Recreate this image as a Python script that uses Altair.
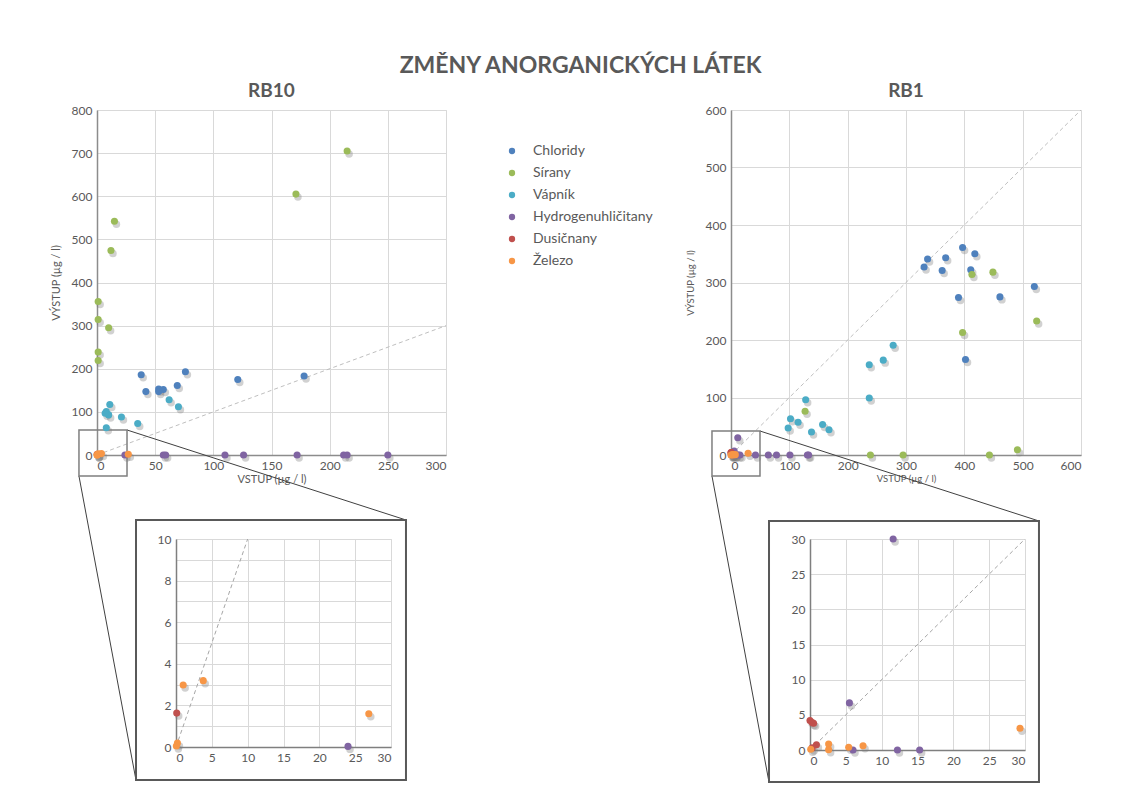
import altair as alt
import pandas as pd

FONT = "Lato"
GREY = "#595959"

SERIES = ["Chloridy", "Sírany", "Vápník", "Hydrogenuhličitany", "Dusičnany", "Železo"]
COLORS = ["#4F81BD", "#9BBB59", "#4BACC6", "#8064A2", "#C0504D", "#F79646"]

# ---------------- RB10 (VSTUP x, VÝSTUP y) ----------------
rb10_chloridy_x = [38, 42, 53, 53, 57, 69, 76, 121, 178]
rb10_chloridy_y = [186, 147, 153, 147, 152, 161, 193, 175, 183]
rb10_sirany_x = [1, 1, 10, 1, 1, 12, 15, 171, 215]
rb10_sirany_y = [356, 314, 295, 239, 219, 474, 542, 605, 705]
rb10_vapnik_x = [62, 70, 11, 8, 10, 7, 21, 35, 8]
rb10_vapnik_y = [128, 112, 117, 101, 93, 97, 88, 73, 63]
rb10_hco3_x = [24, 57, 59, 110, 126, 172, 212, 215, 250]
rb10_hco3_y = [0.03, 0, 0, 0, 0, 0, 0, 0, 0]
rb10_no3_x = [0.1]
rb10_no3_y = [1.63]
rb10_fe_x = [0.2, 0.05, 1.0, 3.8, 26.9]
rb10_fe_y = [0.19, 0.05, 2.98, 3.19, 1.6]

# ---------------- RB1 ----------------
rb1_chloridy_x = [331, 337, 362, 368, 397, 411, 418, 390, 461, 402, 520]
rb1_chloridy_y = [327, 341, 321, 343, 361, 322, 350, 274, 275, 166, 293]
rb1_sirany_x = [239, 295, 443, 491, 127, 397, 413, 449, 524]
rb1_sirany_y = [0, 0, 0, 9, 76, 213, 314, 318, 233]
rb1_vapnik_x = [278, 237, 261, 237, 128, 102, 115, 98, 138, 157, 168]
rb1_vapnik_y = [191, 157, 165, 99, 96, 63, 57, 47, 40, 53, 44]
rb1_hco3_x = [11.6, 5.5, 6.0, 12.2, 15.3, 42, 64, 78, 101, 131, 133]
rb1_hco3_y = [30, 6.7, 0, 0, 0, 0, 0, 0, 0, 0, 0]
rb1_no3_x = [0, 0.3, 0.5, 0.9, 0.3]
rb1_no3_y = [4.2, 3.9, 3.8, 0.75, 0.3]
rb1_fe_x = [0.1, 2.6, 2.6, 5.4, 7.4, 29.3]
rb1_fe_y = [0.1, 0.85, 0.05, 0.4, 0.6, 3.1]

# reference lines y = x
rb10_diag = [0, 300]
rb1_diag = [0, 600]

# zoom boxes and connector lines (main-panel data units)
rb10_box_x, rb10_box_y = [-15.5, 25.8], [-48.7, 58]
rb10_link_x, rb10_link_x2 = [25.8, -15.5], [265.6, 33.5]
rb10_link_y, rb10_link_y2 = [58, -48.7], [-150.7, -753.6]
rb1_box_x, rb1_box_y = [-32.6, 49.7], [-36.5, 41.7]
rb1_link_x, rb1_link_x2 = [49.7, -32.6], [528, 65.1]
rb1_link_y, rb1_link_y2 = [41.7, -36.5], [-114.8, -568.7]

# inset frames (inset data units)
rb10_frame_x, rb10_frame_y = [-5.58, 32.09], [-1.59, 10.91]
rb1_frame_x, rb1_frame_y = [-5.72, 31.95], [-4.55, 32.56]


def build(arrays):
    rows = []
    for i, (name, (xs, ys)) in enumerate(zip(SERIES, arrays)):
        for x, y in zip(xs, ys):
            rows.append({"series": name, "order": i, "x": x, "y": y})
    return pd.DataFrame(rows)


rb10 = build([(rb10_chloridy_x, rb10_chloridy_y), (rb10_sirany_x, rb10_sirany_y),
              (rb10_vapnik_x, rb10_vapnik_y), (rb10_hco3_x, rb10_hco3_y),
              (rb10_no3_x, rb10_no3_y), (rb10_fe_x, rb10_fe_y)])
rb1 = build([(rb1_chloridy_x, rb1_chloridy_y), (rb1_sirany_x, rb1_sirany_y),
             (rb1_vapnik_x, rb1_vapnik_y), (rb1_hco3_x, rb1_hco3_y),
             (rb1_no3_x, rb1_no3_y), (rb1_fe_x, rb1_fe_y)])

cscale = alt.Scale(domain=SERIES, range=COLORS)
NOVIEW = alt.ViewBackground(stroke=None, fill=None)


def axis(values, title, tsize, domain_color="#8c8c8c", **kw):
    return alt.Axis(values=values, title=title, grid=True, gridColor="#d9d9d9", gridWidth=1,
                    domain=True, labels=True,
                    domainColor=domain_color, domainWidth=1.5, ticks=False,
                    labelColor=GREY, labelFont=FONT, labelFontSize=12, labelPadding=5,
                    titleColor=GREY, titleFont=FONT, titleFontSize=tsize,
                    titleFontWeight="normal", **kw)


def points(d, X, Y, size):
    shadow = alt.Chart(d).mark_circle(size=size + 6, color="#7a7a7a", opacity=0.35,
                                      xOffset=2, yOffset=3).encode(x=X, y=Y)
    pts = alt.Chart(d).mark_circle(size=size, opacity=1).encode(
        x=X, y=Y, color=alt.Color("series:N", scale=cscale, legend=None),
        order="order:Q")
    return shadow, pts


def main_panel(d, diag, box_x, box_y, lx, lx2, ly, ly2, xmax, ymax, xstep, ystep, w, h, name, tsize):
    xs = alt.Scale(domain=[0, xmax], nice=False, zero=False)
    ys = alt.Scale(domain=[0, ymax], nice=False, zero=False)
    X = alt.X("x:Q", scale=xs, axis=axis(list(range(0, xmax + 1, xstep)), "VSTUP (µg / l)", tsize, titlePadding=2))
    Y = alt.Y("y:Q", scale=ys, axis=axis(list(range(0, ymax + 1, ystep)), "VÝSTUP (µg / l)", tsize, titlePadding=10))
    diag_l = alt.Chart(pd.DataFrame({"x": diag, "y": diag})).mark_line(
        color="#bfbfbf", strokeDash=[4, 3], strokeWidth=1, clip=True).encode(x=X, y=Y)
    box_l = alt.Chart(pd.DataFrame({"x": [box_x[0]], "x2": [box_x[1]], "y": [box_y[0]], "y2": [box_y[1]]})).mark_rect(
        fillOpacity=0, stroke="#7f7f7f", strokeWidth=1.5, clip=False).encode(x=X, x2="x2:Q", y=Y, y2="y2:Q")
    link_l = alt.Chart(pd.DataFrame({"x": lx, "x2": lx2, "y": ly, "y2": ly2})).mark_rule(
        color="#404040", strokeWidth=1, clip=False).encode(x=X, x2="x2:Q", y=Y, y2="y2:Q")
    shadow, pts = points(d, X, Y, 50)
    return alt.layer(diag_l, link_l, box_l, shadow, pts).properties(
        width=w, height=h,
        title=alt.TitleParams(name, font=FONT, fontSize=19, fontWeight="bold", color=GREY,
                              anchor="middle", offset=3))


def inset_panel(d, diag, frame_x, frame_y, xmax, ymax, ystep, label_every, w, h):
    xs = alt.Scale(domain=[0, xmax], nice=False, zero=False)
    ys = alt.Scale(domain=[0, ymax], nice=False, zero=False)
    X = alt.X("x:Q", scale=xs, axis=axis(list(range(0, xmax + 1, 5)), None, 11, domain_color="#7f7f7f"))
    Y = alt.Y("y:Q", scale=ys, axis=axis(list(range(0, ymax + 1, ystep)), None, 11, domain_color="#7f7f7f",
                                         labelExpr=f"datum.value % {label_every} == 0 ? datum.label : ''"))
    frame_l = alt.Chart(pd.DataFrame({"x": [frame_x[0]], "x2": [frame_x[1]], "y": [frame_y[0]], "y2": [frame_y[1]]})).mark_rect(
        fillOpacity=0, stroke="#595959", strokeWidth=2, clip=False).encode(x=X, x2="x2:Q", y=Y, y2="y2:Q")
    diag_l = alt.Chart(pd.DataFrame({"x": diag, "y": diag})).mark_line(
        color="#a6a6a6", strokeDash=[4, 3], strokeWidth=1, clip=True).encode(x=X, y=Y)
    inside = d[(d["x"] <= xmax) & (d["y"] <= ymax)]
    shadow, pts = points(inside, X, Y, 50)
    return alt.layer(frame_l, diag_l, shadow, pts).properties(width=w, height=h)


rb10_main = main_panel(rb10, rb10_diag, rb10_box_x, rb10_box_y, rb10_link_x, rb10_link_x2,
                       rb10_link_y, rb10_link_y2, 300, 800, 50, 100, 349, 345, "RB10", 11)
rb1_main = main_panel(rb1, rb1_diag, rb1_box_x, rb1_box_y, rb1_link_x, rb1_link_x2,
                      rb1_link_y, rb1_link_y2, 600, 600, 100, 100, 350, 345, "RB1", 9.5)

rb10_inset = inset_panel(rb10, rb10_diag, rb10_frame_x, rb10_frame_y, 30, 10, 1, 2, 215, 208)
rb1_inset = inset_panel(rb1, rb1_diag, rb1_frame_x, rb1_frame_y, 30, 30, 5, 5, 215, 211)

leg_df = pd.DataFrame({"series": SERIES})
leg_y = alt.Y("series:N", sort=SERIES, scale=alt.Scale(type="point", range=[41, 151], padding=0), axis=None)
legend = alt.layer(
    alt.Chart(leg_df).mark_circle(size=40, opacity=1).encode(
        x=alt.value(66), y=leg_y, color=alt.Color("series:N", scale=cscale, legend=None)),
    alt.Chart(leg_df).mark_text(align="left", baseline="middle", font=FONT, fontSize=14, color=GREY).encode(
        x=alt.value(87), y=leg_y, text="series:N"),
).properties(width=285, height=345, view=NOVIEW)


def spacer(w):
    return alt.Chart(pd.DataFrame({"s": [0]})).mark_point(opacity=0, size=0).encode(
        x=alt.value(0), y=alt.value(0)).properties(width=w, height=1, view=NOVIEW)


top = alt.hconcat(rb10_main, legend, rb1_main, spacing=0, bounds="flush")
bottom = alt.hconcat(spacer(79), rb10_inset, spacer(419), rb1_inset, spacing=0, bounds="flush")

# nested rows have no own height in flush mode: spacing = top-row height + gap
chart = alt.vconcat(top, bottom, spacing=429, bounds="flush").properties(
    title=alt.TitleParams("ZMĚNY ANORGANICKÝCH LÁTEK", font=FONT, fontSize=23, fontWeight="bold",
                          color=GREY, anchor="middle", dx=15, offset=4),
    padding={"left": 41, "top": 46, "right": 5, "bottom": 5},
    background="white",
).configure_view(stroke=None).configure_axis(
    domain=False, grid=False, labels=False, ticks=False
).configure(font=FONT)

chart.save("out.html", embed_options={"renderer": "svg", "actions": False})
